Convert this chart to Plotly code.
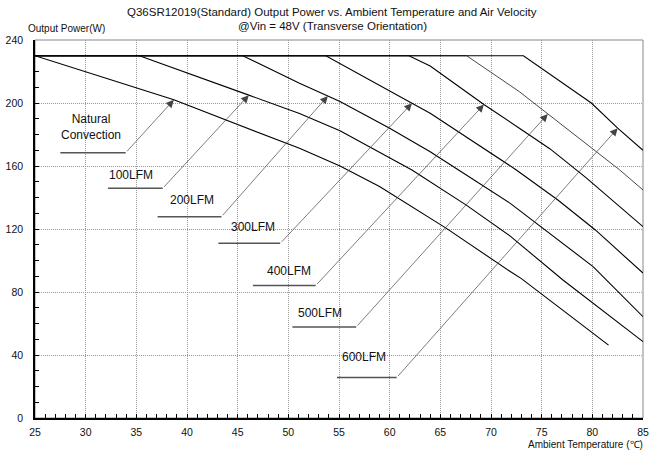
import numpy as np
import plotly.graph_objects as go

# ---- data ----
series_names = ["Natural Convection", "100LFM", "200LFM", "300LFM", "400LFM", "500LFM", "600LFM"]

nc_t = [25, 38.7, 51.1, 55.1, 59.0, 65.6, 71.9, 73.0, 81.6]
nc_p = [230, 202, 171.2, 160, 147, 120.4, 93, 88.5, 46.3]

lfm100_t = [25, 35.3, 46.1, 51.1, 55.1, 62.2, 67.6, 71.9, 77.1, 85]
lfm100_p = [230, 230, 205, 193.4, 182.4, 157.5, 135, 115.5, 87.6, 48.5]

lfm200_t = [25, 45.5, 51.1, 55.1, 60.0, 64.0, 66.8, 71.9, 80.1, 85]
lfm200_p = [230, 230, 212.5, 201, 184, 169, 157.5, 136.3, 96, 64.3]

lfm300_t = [25, 53.7, 62.2, 64.0, 72.5, 76.6, 80.3, 85]
lfm300_p = [230, 230, 199.8, 193.5, 157.5, 138.4, 119.4, 92]

lfm400_t = [25, 61.9, 64.0, 69.3, 72.8, 75.8, 79.4, 85]
lfm400_p = [230, 230, 223.5, 199, 184, 171, 152.5, 121.5]

lfm500_t = [25, 67.6, 72.8, 75.6, 82.7, 85]
lfm500_p = [230, 230, 207.2, 193, 157.5, 144.8]

lfm600_t = [25, 73.2, 79.9, 82.5, 85]
lfm600_p = [230, 230, 200, 184, 170]

series_t = [nc_t, lfm100_t, lfm200_t, lfm300_t, lfm400_t, lfm500_t, lfm600_t]
series_p = [nc_p, lfm100_p, lfm200_p, lfm300_p, lfm400_p, lfm500_p, lfm600_p]

# temperature where each label's arrow touches its curve
arrow_tip_t = [38.7, 46.1, 53.9, 62.2, 69.3, 75.6, 82.5]

label_texts = ["Natural<br>Convection", "100LFM", "200LFM", "300LFM", "400LFM", "500LFM", "600LFM"]

x_ticks = list(range(25, 90, 5))
y_ticks = list(range(0, 280, 40))

title_lines = ["Q36SR12019(Standard) Output Power vs. Ambient Temperature and Air Velocity",
               "@Vin = 48V (Transverse Orientation)"]

# ---- layout positions for labels (data coordinates) ----
label_pos = [(30.5, 185), (34.5, 154.3), (40.5, 138.4), (46.5, 121), (50.1, 93.5), (53.1, 66.9), (57.5, 38.9)]
leader_x0 = [27.5, 32.2, 37.1, 43.1, 46.5, 50.4, 54.8]
leader_x1 = [33.95, 37.6, 43.4, 49.2, 52.7, 56.7, 60.7]
leader_y = [168.4, 145.8, 127.8, 110.9, 84.1, 57.8, 25.7]

FONT = "Liberation Sans, Arial, sans-serif"

fig = go.Figure()
line_widths = [1.1, 1.1, 1.1, 1.1, 1.1, 0.9, 1.1]
line_colors = ["#000", "#000", "#000", "#000", "#000", "#333", "#000"]
for name, t, p, w, c in zip(series_names, series_t, series_p, line_widths, line_colors):
    fig.add_trace(go.Scatter(x=t, y=p, mode="lines", name=name,
                             line=dict(color=c, width=w), showlegend=False, hoverinfo="x+y+name"))

shapes = []
annotations = []
for i in range(len(series_names)):
    tip_t = arrow_tip_t[i]
    tip_p = float(np.interp(tip_t, series_t[i], series_p[i]))
    shapes.append(dict(type="line", xref="x", yref="y", x0=leader_x0[i], x1=leader_x1[i],
                       y0=leader_y[i], y1=leader_y[i], line=dict(color="#555", width=1.5)))
    annotations.append(dict(x=tip_t, y=tip_p, xref="x", yref="y", ax=leader_x1[i], ay=leader_y[i],
                            axref="x", ayref="y", text="", showarrow=True, arrowhead=2,
                            arrowsize=2.2, arrowwidth=0.7, arrowcolor="#444", standoff=0))
    lx, ly = label_pos[i]
    annotations.append(dict(x=lx, y=ly, xref="x", yref="y", text=label_texts[i], showarrow=False,
                            font=dict(family=FONT, size=12, color="#111"), xanchor="center", yanchor="middle"))

# frame (top/right gray border)
shapes.append(dict(type="rect", xref="paper", yref="paper", x0=0, x1=1, y0=0, y1=1,
                   line=dict(color="#888", width=1), layer="below"))

# title (two lines)
for txt, yy in zip(title_lines, [1.074, 1.037]):
    annotations.append(dict(text=txt, xref="paper", yref="paper", x=0.4885, y=yy,
                            xanchor="center", yanchor="middle", showarrow=False,
                            font=dict(family=FONT, size=11.5, color="#111")))

annotations.append(dict(text="Output Power(W)", xref="paper", yref="paper", x=-0.014, y=1.03,
                        xanchor="left", yanchor="middle", showarrow=False,
                        font=dict(family=FONT, size=10, color="#111")))
annotations.append(dict(text="Ambient Temperature (℃)", xref="paper", yref="paper", x=1.003, y=-0.069,
                        xanchor="right", yanchor="middle", showarrow=False,
                        font=dict(family=FONT, size=10, color="#111")))

grid_dash = "1px,1px"
fig.update_layout(
    width=650, height=454,
    margin=dict(l=35, r=7, t=40, b=36, autoexpand=False),
    paper_bgcolor="white", plot_bgcolor="white",
    shapes=shapes, annotations=annotations,
    xaxis=dict(range=[25, 85], tickvals=x_ticks, ticks="inside", ticklen=4, tickcolor="black",
               showline=True, linecolor="black", linewidth=1.5, showgrid=True, automargin=False,
               gridcolor="#999", griddash=grid_dash, gridwidth=1, zeroline=False,
               tickfont=dict(family=FONT, size=10.5, color="#111"), ticklabelstandoff=4,
               minor=dict(dtick=1, ticks="inside", ticklen=4, tickcolor="black", showgrid=False)),
    yaxis=dict(range=[0, 240], tickvals=y_ticks, ticks="inside", ticklen=4, tickcolor="black",
               showline=True, linecolor="black", linewidth=1.5, showgrid=True, automargin=False,
               gridcolor="#999", griddash=grid_dash, gridwidth=1, zeroline=False,
               tickfont=dict(family=FONT, size=10.5, color="#111"), ticklabelstandoff=8,
               minor=dict(dtick=10, ticks="inside", ticklen=4, tickcolor="black", showgrid=False)),
)

fig.write_html("out.html", config={"displayModeBar": False},
               post_script="document.body.style.margin='0';document.body.style.overflow='hidden';")
